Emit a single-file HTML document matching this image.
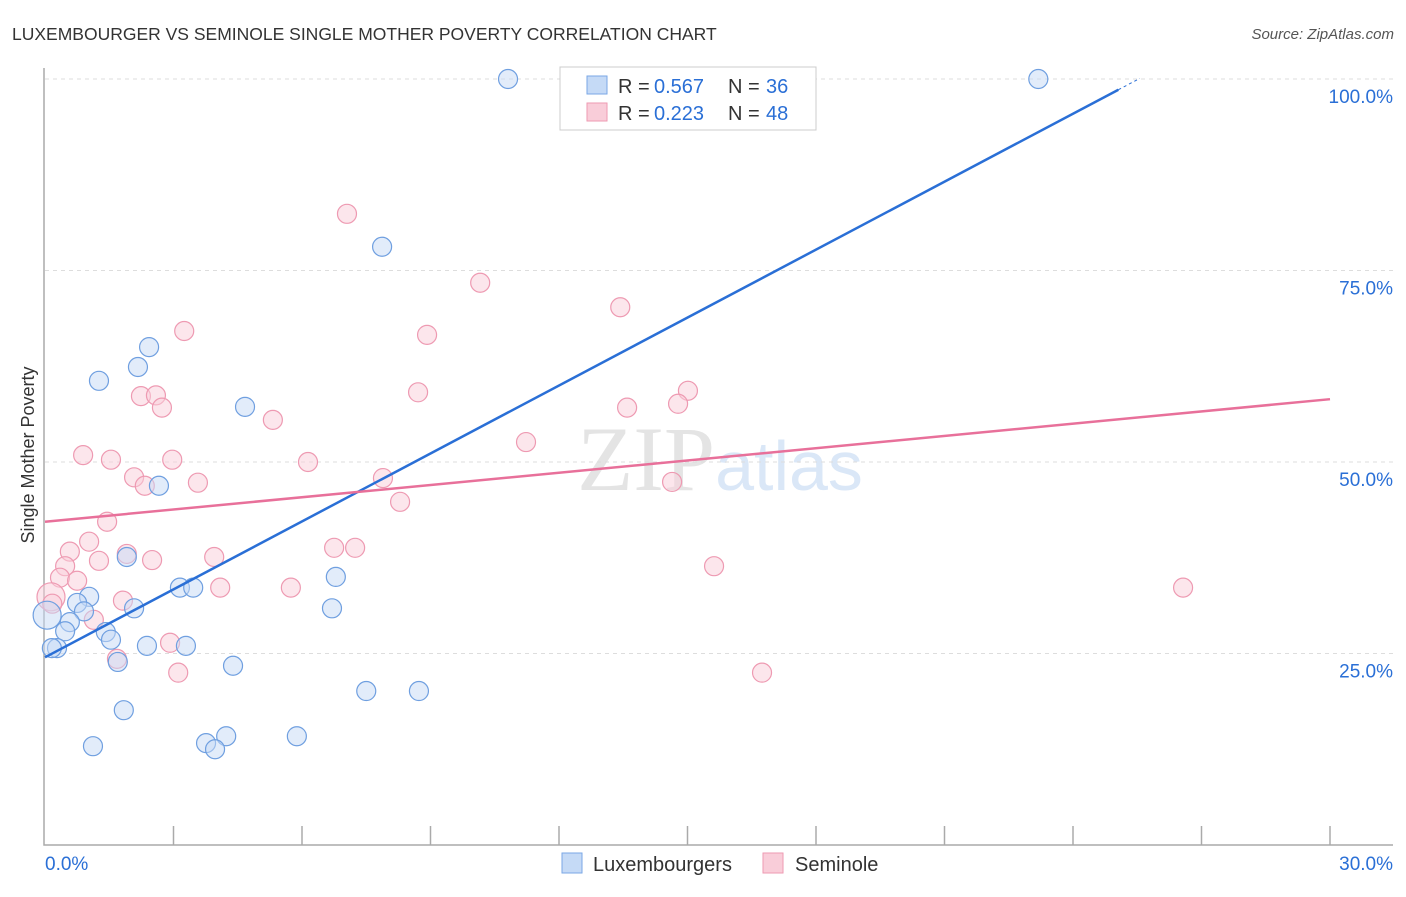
<!DOCTYPE html>
<html><head><meta charset="utf-8"><style>
body{margin:0;background:#fff;font-family:"Liberation Sans",sans-serif}
</style></head><body>
<svg id="chart" width="1406" height="892" xmlns="http://www.w3.org/2000/svg" font-family="Liberation Sans, sans-serif">
<text x="12" y="40" font-size="17.5" fill="#333">LUXEMBOURGER VS SEMINOLE SINGLE MOTHER POVERTY CORRELATION CHART</text>
<text x="1394" y="39" font-size="15" fill="#555" text-anchor="end" font-style="italic">Source: ZipAtlas.com</text>
<text x="720" y="490" font-size="92" text-anchor="middle" fill="#e4e4e4" font-family="Liberation Serif, serif">ZIP<tspan fill="#dae7f7" font-family="Liberation Sans, sans-serif" font-size="70">atlas</tspan></text>
<text transform="translate(34,455) rotate(-90)" font-size="18" fill="#333" text-anchor="middle">Single Mother Poverty</text>
<g id="grid"></g><g id="axes"></g><g id="points"></g><g id="trends"></g>
<g>
<rect x="560" y="67" width="256" height="63" fill="#fff" stroke="#ccc"/>
<rect x="587" y="76" width="20" height="18" fill="#c5daf6" stroke="#7aa7e6"/>
<text x="618" y="93" font-size="20" fill="#333">R = </text>
<text x="654" y="93" font-size="20" fill="#2a6fd6">0.567</text>
<text x="728" y="93" font-size="20" fill="#333">N = </text>
<text x="766" y="93" font-size="20" fill="#2a6fd6">36</text>
<rect x="587" y="103" width="20" height="18" fill="#f9cdd9" stroke="#ee9ab2"/>
<text x="618" y="120" font-size="20" fill="#333">R = </text>
<text x="654" y="120" font-size="20" fill="#2a6fd6">0.223</text>
<text x="728" y="120" font-size="20" fill="#333">N = </text>
<text x="766" y="120" font-size="20" fill="#2a6fd6">48</text>
</g>
<g>
<rect x="562" y="853" width="20" height="20" fill="#c5daf6" stroke="#7aa7e6"/>
<text x="593" y="871" font-size="20" fill="#333">Luxembourgers</text>
<rect x="763" y="853" width="20" height="20" fill="#f9cdd9" stroke="#ee9ab2"/>
<text x="795" y="871" font-size="20" fill="#333">Seminole</text>
</g>
</svg>
<script>
const blueX=[10.81,23.19,7.87,2.43,2.17,1.26,4.67,2.66,1.91,3.15,3.46,6.79,1.03,0.75,0.91,2.08,6.70,0.58,0.47,0.05,1.42,1.54,2.38,3.29,0.28,0.16,1.70,4.39,7.50,8.73,1.84,1.12,3.76,4.23,3.97,5.88];
const blueY=[100,100,78.1,65.0,62.4,60.6,57.2,46.9,37.6,33.6,33.6,35.0,32.4,31.6,30.5,30.9,30.9,29.1,27.9,30.0,27.8,26.8,26.0,26.0,25.7,25.7,23.9,23.4,20.1,20.1,17.6,12.9,13.3,14.2,12.5,14.2];
const pinkX=[7.05,10.16,13.43,3.25,8.92,15.01,8.71,2.24,2.59,2.73,14.78,13.59,5.32,11.23,0.89,1.54,2.97,6.14,2.08,2.33,3.57,7.89,14.64,8.29,1.45,1.03,0.58,6.75,7.24,1.91,2.50,3.95,1.26,0.47,0.35,0.75,15.62,4.09,5.74,26.57,0.14,1.82,0.17,1.14,2.92,1.68,3.11,16.74];
const pinkY=[82.4,73.4,70.2,67.1,66.6,59.3,59.1,58.6,58.7,57.1,57.6,57.1,55.5,52.6,50.9,50.3,50.3,50.0,48.0,46.9,47.3,47.9,47.4,44.8,42.2,39.6,38.3,38.8,38.8,38.0,37.2,37.6,37.1,36.4,34.9,34.5,36.4,33.6,33.6,33.6,32.4,31.9,31.5,29.4,26.4,24.3,22.5,22.5];
const blueTrend=[0,24.5,25.06,98.6];
const pinkTrend=[0,42.2,30,58.2];
const yTicks=[25,50,75,100];
const xTickLabels=["0.0%","30.0%"];
const NS="http://www.w3.org/2000/svg";
const X=v=>45+v/30*1285, Y=v=>845-v*7.66;
function mk(t,a,p){const e=document.createElementNS(NS,t);for(const k in a)e.setAttribute(k,a[k]);p.appendChild(e);return e;}
const grid=document.getElementById('grid'),axes=document.getElementById('axes'),pts=document.getElementById('points'),tr=document.getElementById('trends');
yTicks.forEach(t=>{const l=mk('line',{x1:45,x2:1393,y1:Y(t),y2:Y(t),stroke:'#ddd','stroke-dasharray':'4,4'},grid);


const tx=mk('text',{x:1393,y:Y(t)+24,'font-size':19,fill:'#2a6fd6','text-anchor':'end'},axes);tx.textContent=t.toFixed(1)+'%';

});
const ax=mk('path',{d:'M44,68V845H1393',stroke:'#aaa',fill:'none','stroke-width':1.5},axes);


for(let i=1;i<=10;i++){const tk=mk('line',{x1:X(i*3),x2:X(i*3),y1:826,y2:845,stroke:'#aaa','stroke-width':1.5},axes);

}
[[0,'start',45],[1,'end',1393]].forEach(([i,a,x])=>{const t=mk('text',{x:x,y:870,'font-size':19,fill:'#2a6fd6','text-anchor':a},axes);t.textContent=xTickLabels[i];

});
function dots(xs,ys,f,s,n){xs.forEach((x,i)=>{const r=(x<0.15)?14:9.5;const c=mk('circle',{cx:X(x),cy:Y(ys[i]),r:r,fill:f,'fill-opacity':0.5,stroke:s,'stroke-width':1.2},pts);

});}
dots(pinkX,pinkY,'#f9cdd9','#ee9ab2','seminole-point');
dots(blueX,blueY,'#c5daf6','#6f9fe0','luxembourger-point');
const bl=mk('line',{x1:X(blueTrend[0]),y1:Y(blueTrend[1]),x2:X(blueTrend[2]),y2:Y(blueTrend[3]),stroke:'#2a6fd6','stroke-width':2.5},tr);


const sl=(blueTrend[3]-blueTrend[1])/(blueTrend[2]-blueTrend[0]);
const bd=mk('line',{x1:X(blueTrend[2]),y1:Y(blueTrend[3]),x2:X(blueTrend[2]+0.5),y2:Y(blueTrend[3]+0.5*sl),stroke:'#2a6fd6','stroke-width':1,'stroke-dasharray':'3,3'},tr);


const pl=mk('line',{x1:X(pinkTrend[0]),y1:Y(pinkTrend[1]),x2:X(pinkTrend[2]),y2:Y(pinkTrend[3]),stroke:'#e8709a','stroke-width':2.5},tr);


</script>
</body></html>
